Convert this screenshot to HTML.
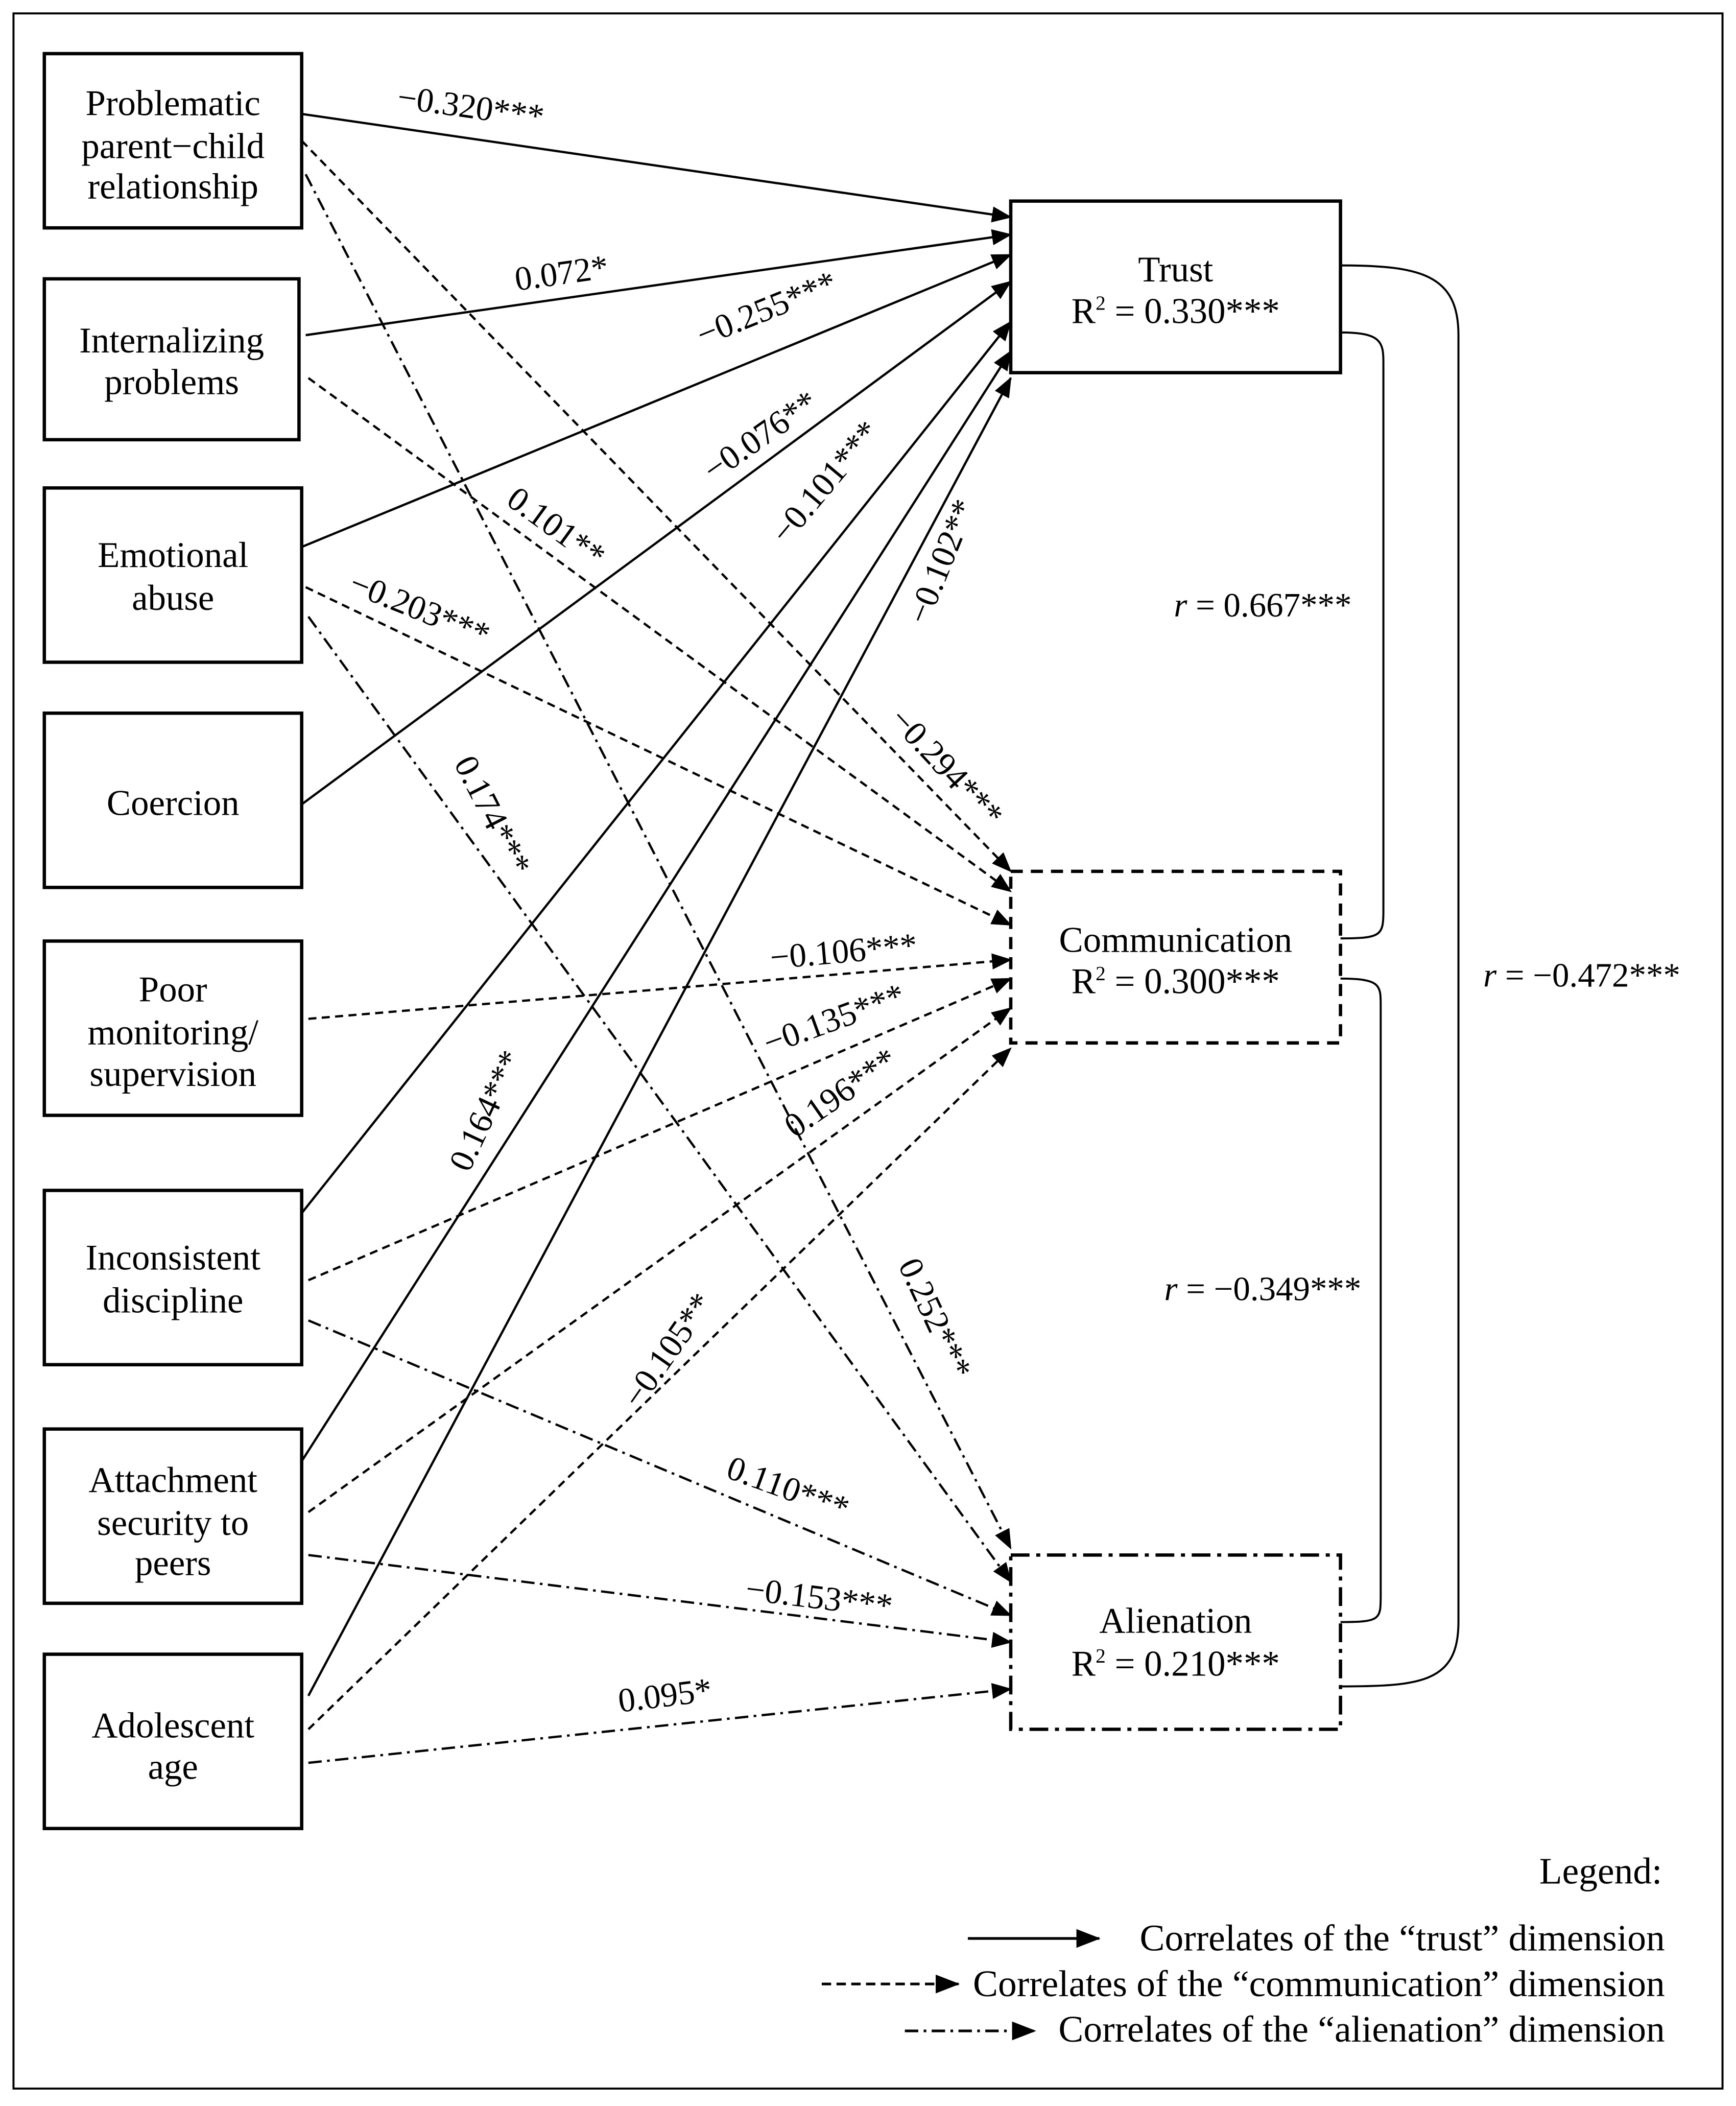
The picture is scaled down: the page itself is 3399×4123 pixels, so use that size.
<!DOCTYPE html>
<html><head><meta charset="utf-8"><style>
html,body{margin:0;padding:0;background:#fff}
svg{display:block}
text{font-family:"Liberation Serif",serif;fill:#000}
</style></head><body>
<svg width="3399" height="4123" viewBox="0 0 1295 1571" xmlns="http://www.w3.org/2000/svg">
<defs>
<marker id="a" viewBox="0 0 15 12" markerWidth="15" markerHeight="12" refX="14" refY="6" orient="auto" markerUnits="userSpaceOnUse">
<path d="M0,0 L15,6 L0,12 z" fill="#000"/>
</marker>
<marker id="b" viewBox="0 0 18 14" markerWidth="18" markerHeight="14" refX="17" refY="7" orient="auto" markerUnits="userSpaceOnUse">
<path d="M0,0 L18,7 L0,14 z" fill="#000"/>
</marker>
</defs>
<rect x="10" y="10" width="1275" height="1548" fill="none" stroke="#000" stroke-width="1.5"/>

<g fill="none" stroke="#000" stroke-width="2.5">
<rect x="33" y="40" width="192" height="130"/>
<rect x="33" y="208" width="190" height="120"/>
<rect x="33" y="364" width="192" height="130"/>
<rect x="33" y="532" width="192" height="130"/>
<rect x="33" y="702" width="192" height="130"/>
<rect x="33" y="888" width="192" height="130"/>
<rect x="33" y="1066" width="192" height="130"/>
<rect x="33" y="1234" width="192" height="130"/>
<rect x="754" y="150" width="246" height="128"/>
<rect x="754" y="650" width="246" height="128" stroke-dasharray="9,6"/>
<rect x="754" y="1160" width="246" height="130" stroke-dasharray="14,5,3,5"/>
</g>

<g font-size="27" text-anchor="middle">
<text x="129" y="86">Problematic</text><text x="129" y="118">parent−child</text><text x="129" y="148">relationship</text>
<text x="128" y="263">Internalizing</text><text x="128" y="294">problems</text>
<text x="129" y="423">Emotional</text><text x="129" y="455">abuse</text>
<text x="129" y="608">Coercion</text>
<text x="129" y="747">Poor</text><text x="129" y="779">monitoring/</text><text x="129" y="810">supervision</text>
<text x="129" y="947">Inconsistent</text><text x="129" y="979">discipline</text>
<text x="129" y="1113">Attachment</text><text x="129" y="1145">security to</text><text x="129" y="1175">peers</text>
<text x="129" y="1296">Adolescent</text><text x="129" y="1327">age</text>
<text x="877" y="210">Trust</text><text x="877" y="241">R<tspan font-size="15" dy="-10">2</tspan><tspan dy="10"> = 0.330***</tspan></text>
<text x="877" y="710">Communication</text><text x="877" y="741">R<tspan font-size="15" dy="-10">2</tspan><tspan dy="10"> = 0.300***</tspan></text>
<text x="877" y="1218">Alienation</text><text x="877" y="1250">R<tspan font-size="15" dy="-10">2</tspan><tspan dy="10"> = 0.210***</tspan></text>
</g>

<g fill="none" stroke="#000" stroke-width="1.5">
<path d="M1000,198 C1060,198 1088,205 1088,250 L1088,1210 C1088,1255 1060,1258 1000,1258"/>
<path d="M1000,248 C1030,248 1032,255 1032,270 L1032,680 C1032,698 1030,700 1000,700"/>
<path d="M1000,730 C1030,730 1030,735 1030,750 L1030,1190 C1030,1208 1030,1210 1000,1210"/>
</g>

<g stroke="#000" stroke-width="1.7" fill="none" marker-end="url(#a)">
<line x1="225" y1="85" x2="754" y2="162"/>
<line x1="228" y1="250" x2="754" y2="175"/>
<line x1="225" y1="408" x2="754" y2="190"/>
<line x1="225" y1="600" x2="754" y2="210"/>
<line x1="225" y1="905" x2="754" y2="240"/>
<line x1="225" y1="1090" x2="754" y2="262"/>
<line x1="230" y1="1265" x2="754" y2="282"/>
<g stroke-dasharray="6,4">
<line x1="225" y1="105" x2="754" y2="650"/>
<line x1="230" y1="282" x2="754" y2="665"/>
<line x1="228" y1="438" x2="754" y2="690"/>
<line x1="230" y1="760" x2="754" y2="716"/>
<line x1="230" y1="955" x2="754" y2="730"/>
<line x1="230" y1="1128" x2="754" y2="752"/>
<line x1="230" y1="1290" x2="754" y2="782"/>
</g>
<g stroke-dasharray="10,4,2,4">
<line x1="228" y1="130" x2="754" y2="1155"/>
<line x1="230" y1="460" x2="754" y2="1180"/>
<line x1="230" y1="985" x2="754" y2="1205"/>
<line x1="230" y1="1160" x2="754" y2="1225"/>
<line x1="230" y1="1315" x2="754" y2="1260"/>
</g>
</g>

<g font-size="25.5" text-anchor="middle">
<text transform="translate(350,88) rotate(8)">−0.320***</text>
<text transform="translate(420,212) rotate(-8)">0.072*</text>
<text transform="translate(575,238) rotate(-22)">−0.255***</text>
<text transform="translate(572,332) rotate(-35)">−0.076**</text>
<text transform="translate(622,365) rotate(-50)">−0.101***</text>
<text transform="translate(710,422) rotate(-68)">−0.102**</text>
<text transform="translate(410,400) rotate(36)">0.101**</text>
<text transform="translate(310,462) rotate(22)">−0.203***</text>
<text transform="translate(360,612) rotate(63)">0.174***</text>
<text transform="translate(700,578) rotate(47)">−0.294***</text>
<text transform="translate(630,718) rotate(-5)">−0.106***</text>
<text transform="translate(625,768) rotate(-20)">−0.135***</text>
<text transform="translate(632,822) rotate(-35)">0.196***</text>
<text transform="translate(370,832) rotate(-65)">0.164***</text>
<text transform="translate(505,1012) rotate(-55)">−0.105**</text>
<text transform="translate(690,987) rotate(65)">0.252***</text>
<text transform="translate(585,1118) rotate(20)">0.110***</text>
<text transform="translate(610,1200) rotate(7)">−0.153***</text>
<text transform="translate(497,1273) rotate(-7)">0.095*</text>
<text x="942" y="460"><tspan font-style="italic">r</tspan> = 0.667***</text>
<text x="942" y="970"><tspan font-style="italic">r</tspan> = −0.349***</text>
<text x="1180" y="736"><tspan font-style="italic">r</tspan> = −0.472***</text>
</g>

<g font-size="28" text-anchor="end">
<text x="1240" y="1405">Legend:</text>
<text x="1242" y="1455">Correlates of the “trust” dimension</text>
<text x="1242" y="1489">Correlates of the “communication” dimension</text>
<text x="1242" y="1523">Correlates of the “alienation” dimension</text>
</g>
<g stroke="#000" stroke-width="2" marker-end="url(#b)">
<line x1="722" y1="1446" x2="820" y2="1446"/>
<line x1="613" y1="1480" x2="715" y2="1480" stroke-dasharray="7,4"/>
<line x1="675" y1="1515" x2="772" y2="1515" stroke-dasharray="10,4,2,4"/>
</g>
</svg>
</body></html>
